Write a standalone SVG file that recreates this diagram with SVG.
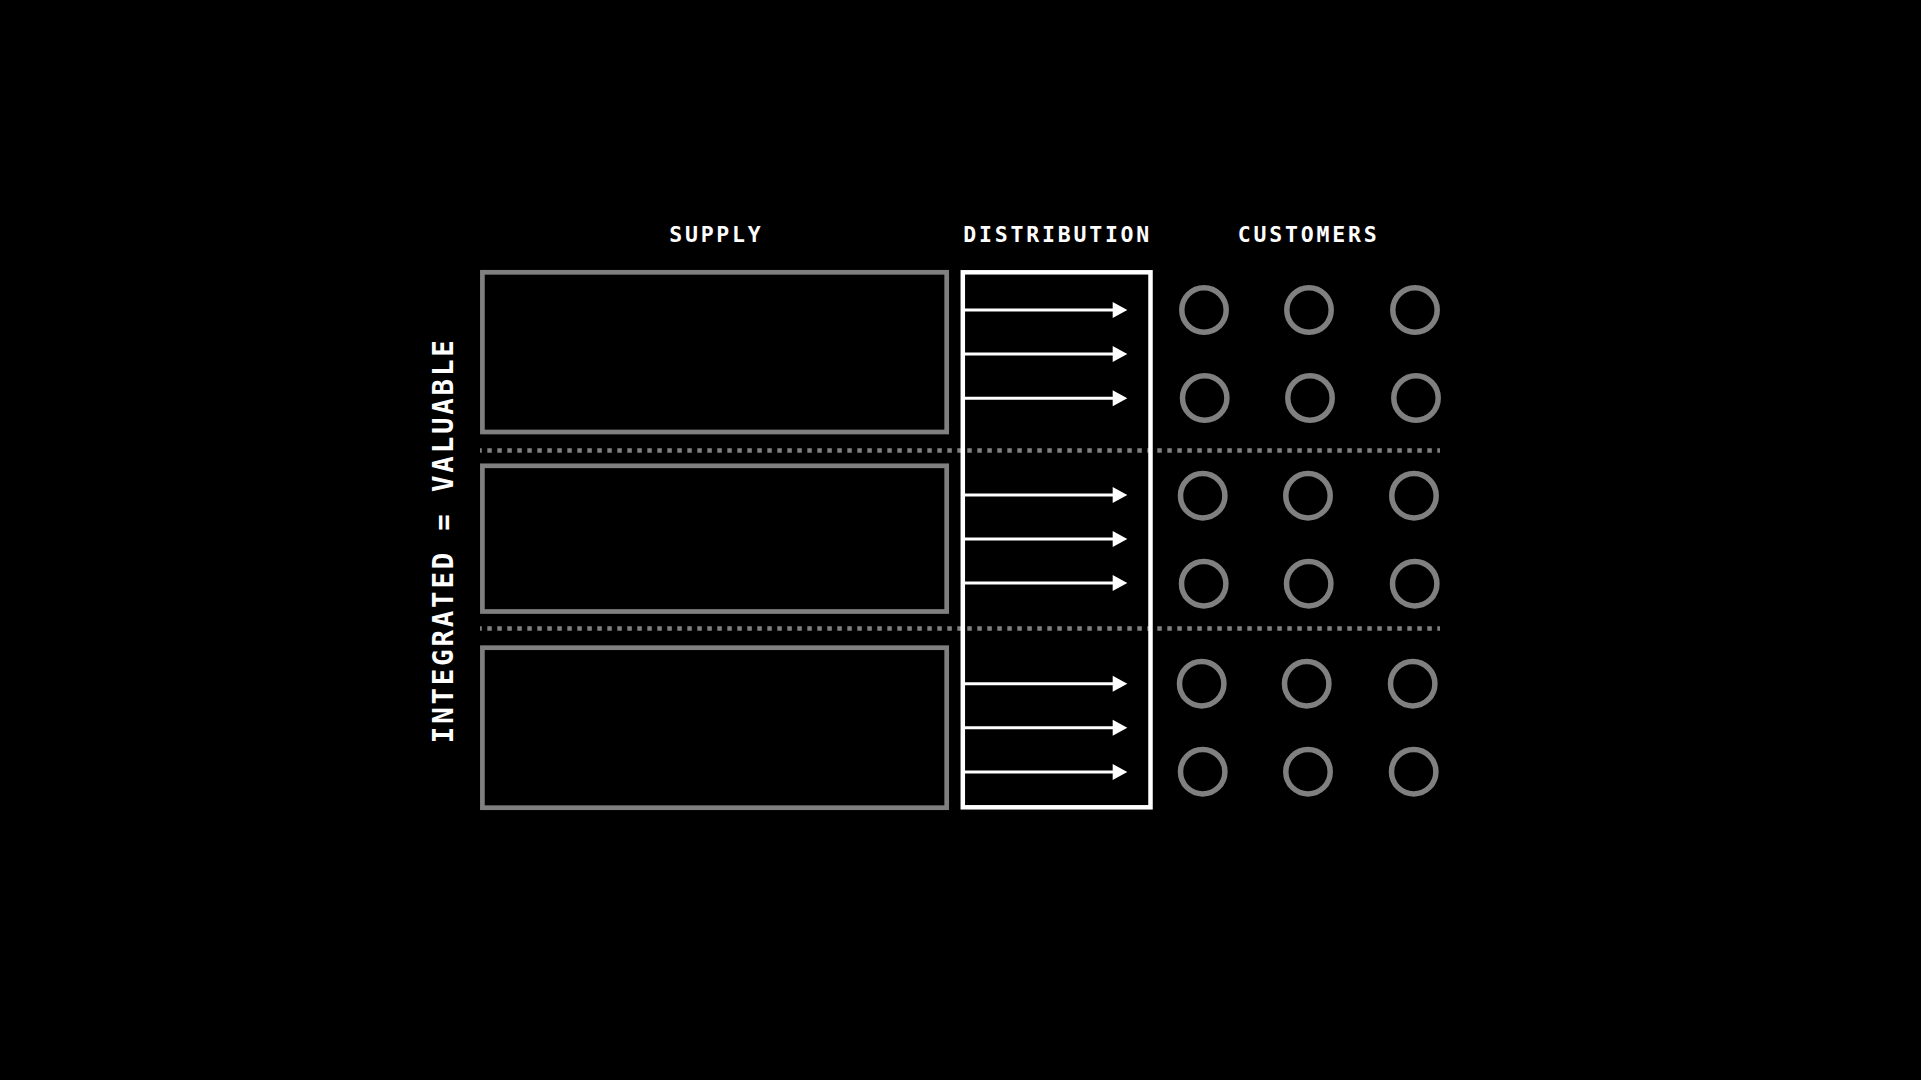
<svg xmlns="http://www.w3.org/2000/svg" width="1921" height="1080" viewBox="0 0 1921 1080">
<defs>
<style>
.bg{fill:#000}
.supply{fill:none;stroke:#808080;stroke-width:4.7}
.dist{fill:none;stroke:#fff;stroke-width:4.5}
.cust{fill:none;stroke:#808080;stroke-width:5.5}
.sep{stroke:#808080;stroke-width:4.4;stroke-dasharray:4.5 5.5;stroke-dashoffset:2.7}
.flow{stroke:#fff;stroke-width:3}
.head{fill:#fff}
.lbl{font-family:"DejaVu Sans Mono","Liberation Mono",monospace;font-weight:bold;fill:#fff;text-anchor:middle}
</style>
</defs>
<rect class="bg" x="0" y="0" width="1921" height="1080"/>
<g id="labels">
<text class="lbl" x="715" y="242.3" font-size="21.5" textLength="91.4" lengthAdjust="spacing">SUPPLY</text>
<text class="lbl" x="1056.3" y="242.3" font-size="21.5" textLength="186" lengthAdjust="spacing">DISTRIBUTION</text>
<text class="lbl" x="1307.2" y="242.3" font-size="21.5" textLength="139" lengthAdjust="spacing">CUSTOMERS</text>
<text class="lbl" transform="translate(452.7,541.7) rotate(-90)" x="0" y="0" font-size="27.5" textLength="403" lengthAdjust="spacing">INTEGRATED = VALUABLE</text>
</g>
<g id="separators">
<line class="sep" x1="480" y1="450.5" x2="1440" y2="450.5"/>
<line class="sep" x1="480" y1="628.5" x2="1440" y2="628.5"/>
</g>
<g id="supply-1"><rect class="supply" x="482.4" y="272.3" width="464.3" height="159.7"/></g>
<g id="supply-2"><rect class="supply" x="482.4" y="465.8" width="464.3" height="145.7"/></g>
<g id="supply-3"><rect class="supply" x="482.4" y="647.7" width="464.3" height="160"/></g>
<g id="distribution"><rect class="dist" x="962.8" y="272.3" width="187.7" height="535"/></g>
<g id="connectors">
<line class="flow" x1="965" y1="310" x2="1114" y2="310"/><polygon class="head" points="1112.7,302 1127.3,310 1112.7,318"/>
<line class="flow" x1="965" y1="354" x2="1114" y2="354"/><polygon class="head" points="1112.7,346 1127.3,354 1112.7,362"/>
<line class="flow" x1="965" y1="398.3" x2="1114" y2="398.3"/><polygon class="head" points="1112.7,390.3 1127.3,398.3 1112.7,406.3"/>
<line class="flow" x1="965" y1="495" x2="1114" y2="495"/><polygon class="head" points="1112.7,487 1127.3,495 1112.7,503"/>
<line class="flow" x1="965" y1="539" x2="1114" y2="539"/><polygon class="head" points="1112.7,531 1127.3,539 1112.7,547"/>
<line class="flow" x1="965" y1="583" x2="1114" y2="583"/><polygon class="head" points="1112.7,575 1127.3,583 1112.7,591"/>
<line class="flow" x1="965" y1="683.7" x2="1114" y2="683.7"/><polygon class="head" points="1112.7,675.7 1127.3,683.7 1112.7,691.7"/>
<line class="flow" x1="965" y1="727.7" x2="1114" y2="727.7"/><polygon class="head" points="1112.7,719.7 1127.3,727.7 1112.7,735.7"/>
<line class="flow" x1="965" y1="772" x2="1114" y2="772"/><polygon class="head" points="1112.7,764 1127.3,772 1112.7,780"/>
</g>
<g id="customers">
<circle class="cust" cx="1204" cy="310" r="22.2"/>
<circle class="cust" cx="1309" cy="310" r="22.2"/>
<circle class="cust" cx="1415" cy="310" r="22.2"/>
<circle class="cust" cx="1204.7" cy="398" r="22.2"/>
<circle class="cust" cx="1310" cy="398" r="22.2"/>
<circle class="cust" cx="1416" cy="398" r="22.2"/>
<circle class="cust" cx="1202.7" cy="495.7" r="22.2"/>
<circle class="cust" cx="1308" cy="495.7" r="22.2"/>
<circle class="cust" cx="1414" cy="495.7" r="22.2"/>
<circle class="cust" cx="1203.7" cy="583.7" r="22.2"/>
<circle class="cust" cx="1308.7" cy="583.7" r="22.2"/>
<circle class="cust" cx="1414.7" cy="583.7" r="22.2"/>
<circle class="cust" cx="1201.7" cy="683.7" r="22.2"/>
<circle class="cust" cx="1306.7" cy="683.7" r="22.2"/>
<circle class="cust" cx="1412.7" cy="683.7" r="22.2"/>
<circle class="cust" cx="1202.7" cy="771.7" r="22.2"/>
<circle class="cust" cx="1308" cy="771.7" r="22.2"/>
<circle class="cust" cx="1413.7" cy="771.7" r="22.2"/>
</g>
</svg>
